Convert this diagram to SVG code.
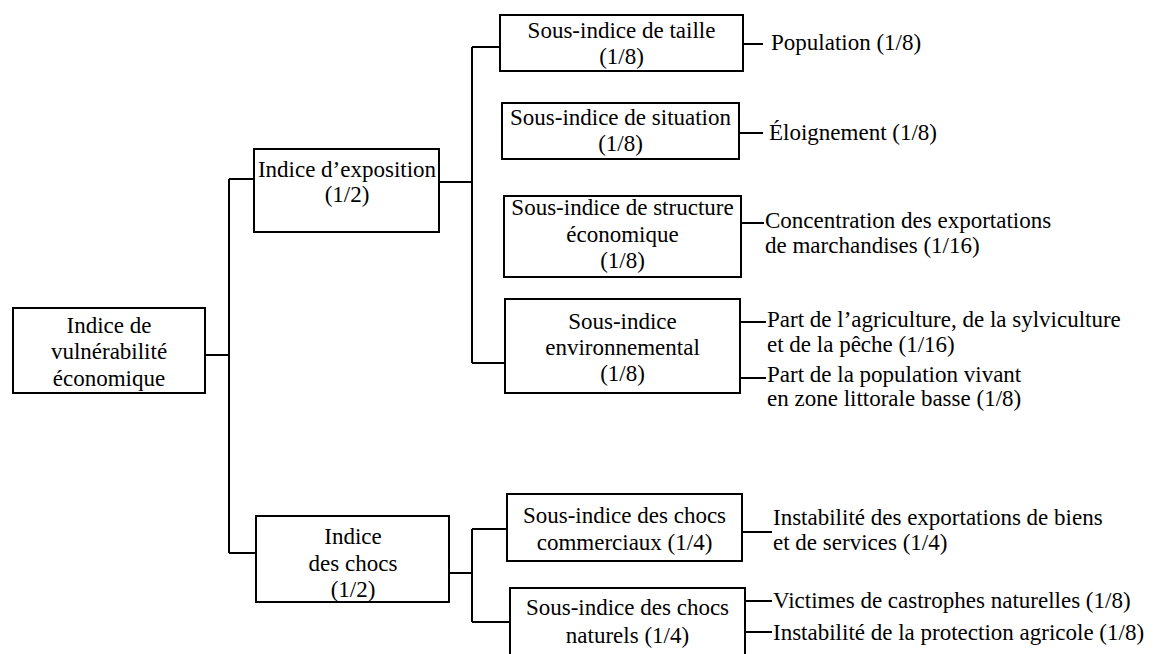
<svg xmlns="http://www.w3.org/2000/svg" width="1157" height="654" viewBox="0 0 1157 654">
<style>
.box{fill:#fff;stroke:#000;stroke-width:2}
.ln{fill:none;stroke:#000;stroke-width:2}
.t text{font-family:'Liberation Serif','DejaVu Serif',serif;font-size:23px;fill:#000}
.c{text-anchor:middle}
</style>
<rect width="1157" height="654" fill="#fff"/>
<g id="connectors" class="ln">
<path d="M205,355H229M229,179V553M229,179H254M229,553H256"/>
<path d="M439,182H472M472,47V363M472,47H500M472,363H505"/>
<path d="M449,573H472M472,529V622M472,529H507M472,622H510"/>
<path d="M743,44H763M739,133H763M741,223H764M740,322H766M740,378H766"/>
<path d="M742,532H772M745,601H772M745,632H772"/>
</g>
<g class="t" font-family="'Liberation Serif','DejaVu Serif',serif" font-size="23">
<g id="root"><rect class="box" x="13" y="308" width="192" height="85"/>
<text class="c" x="109" y="333">Indice de</text><text class="c" x="109" y="359">vulnérabilité</text><text class="c" x="109" y="386">économique</text></g>
<g id="exposition"><rect class="box" x="254" y="149" width="185" height="83"/>
<text class="c" x="347" y="177">Indice d’exposition</text><text class="c" x="347" y="202">(1/2)</text></g>
<g id="chocs"><rect class="box" x="256" y="516" width="193" height="86"/>
<text class="c" x="353" y="544">Indice</text><text class="c" x="353" y="571">des chocs</text><text class="c" x="353" y="597">(1/2)</text></g>
<g id="taille"><rect class="box" x="500" y="15" width="243" height="56"/>
<text class="c" x="621.5" y="38">Sous-indice de taille</text><text class="c" x="621.5" y="64">(1/8)</text></g>
<g id="situation"><rect class="box" x="502" y="103" width="237" height="56"/>
<text class="c" x="620.5" y="125">Sous-indice de situation</text><text class="c" x="620.5" y="151">(1/8)</text></g>
<g id="structure"><rect class="box" x="504" y="196" width="237" height="81"/>
<text class="c" x="622.5" y="215">Sous-indice de structure</text><text class="c" x="622.5" y="242">économique</text><text class="c" x="622.5" y="268">(1/8)</text></g>
<g id="environnemental"><rect class="box" x="505" y="299" width="235" height="94"/>
<text class="c" x="622.5" y="329">Sous-indice</text><text class="c" x="622.5" y="355">environnemental</text><text class="c" x="622.5" y="381">(1/8)</text></g>
<g id="commerciaux"><rect class="box" x="507" y="494" width="235" height="67"/>
<text class="c" x="624.5" y="523">Sous-indice des chocs</text><text class="c" x="624.5" y="550">commerciaux (1/4)</text></g>
<g id="naturels"><rect class="box" x="510" y="588" width="235" height="72"/>
<text class="c" x="627.5" y="615">Sous-indice des chocs</text><text class="c" x="627.5" y="643">naturels (1/4)</text></g>
<g id="population"><text x="771" y="50">Population (1/8)</text></g>
<g id="eloignement"><text x="769" y="140">Éloignement (1/8)</text></g>
<g id="concentration"><text x="765" y="228">Concentration des exportations</text><text x="765" y="253">de marchandises (1/16)</text></g>
<g id="agriculture"><text x="767" y="327">Part de l’agriculture, de la sylviculture</text><text x="767" y="352">et de la pêche (1/16)</text></g>
<g id="littorale"><text x="767" y="382">Part de la population vivant</text><text x="767" y="406">en zone littorale basse (1/8)</text></g>
<g id="export-biens"><text x="773" y="525">Instabilité des exportations de biens</text><text x="773" y="550">et de services (1/4)</text></g>
<g id="victimes"><text x="773" y="608">Victimes de castrophes naturelles (1/8)</text></g>
<g id="protection"><text x="773" y="640">Instabilité de la protection agricole (1/8)</text></g>
</g>
</svg>
